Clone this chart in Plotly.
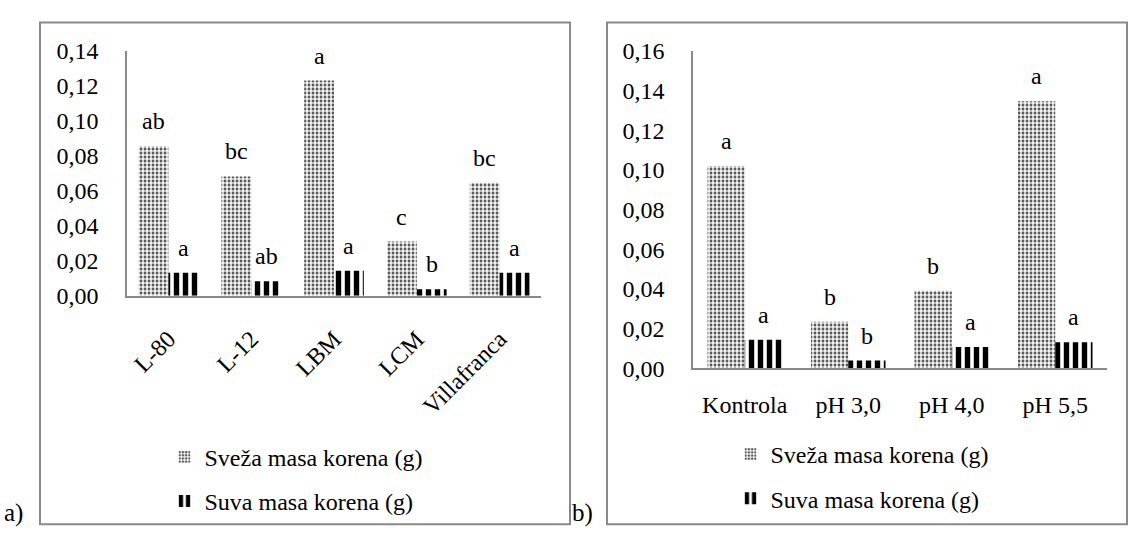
import plotly.graph_objects as go

# ---------------- data ----------------
cats_a = ["L-80", "L-12", "LBM", "LCM", "Villafranca"]
fresh_a = [0.0855, 0.0683, 0.1231, 0.0310, 0.0647]
dry_a = [0.0132, 0.0083, 0.0143, 0.0038, 0.0132]
fresh_a_letters = ["ab", "bc", "a", "c", "bc"]
dry_a_letters = ["a", "ab", "a", "b", "a"]

cats_b = ["Kontrola", "pH 3,0", "pH 4,0", "pH 5,5"]
fresh_b = [0.1020, 0.0234, 0.0390, 0.1347]
dry_b = [0.0143, 0.0038, 0.0107, 0.0130]
fresh_b_letters = ["a", "b", "b", "a"]
dry_b_letters = ["a", "b", "a", "a"]

name_fresh = "Sveža masa korena (g)"
name_dry = "Suva masa korena (g)"
yticks_a = [0.00, 0.02, 0.04, 0.06, 0.08, 0.10, 0.12, 0.14]
yticks_b = [0.00, 0.02, 0.04, 0.06, 0.08, 0.10, 0.12, 0.14, 0.16]

# ---------------- layout constants ----------------
W, H = 1128, 543
FONT = "Liberation Serif"
FS = 24
GRAY = "#8a8a8a"
BARGAP = 0.28

# pixel geometry of the plot areas
ax_l = dict(x0=127, x1=541, ytop=40, ybot=297)
ax_r = dict(x0=693, x1=1107, ytop=40, ybot=373)


def dom_x(a):
    return [a["x0"] / W, a["x1"] / W]


def dom_y(a):
    return [1 - a["ybot"] / H, 1 - a["ytop"] / H]


fresh_marker = dict(
    color="#eeeeee",
    line=dict(width=0),
    pattern=dict(shape=".", fgcolor="#555555", bgcolor="#f4f4f4", size=4, solidity=0.4,
                 fgopacity=1),
)
dry_marker = dict(
    color="white",
    line=dict(width=0),
    pattern=dict(shape="|", fgcolor="black", bgcolor="white", size=9, solidity=0.6,
                 fgopacity=1),
)

fig = go.Figure()
fig.add_trace(go.Bar(x=cats_a, y=fresh_a, name=name_fresh, marker=fresh_marker,
                     xaxis="x", yaxis="y", legend="legend", legendgroup="f1"))
fig.add_trace(go.Bar(x=cats_a, y=dry_a, name=name_dry, marker=dry_marker,
                     xaxis="x", yaxis="y", legend="legend", legendgroup="d1"))
fig.add_trace(go.Bar(x=cats_b, y=fresh_b, name=name_fresh, marker=fresh_marker,
                     xaxis="x2", yaxis="y2", legend="legend2", legendgroup="f2"))
fig.add_trace(go.Bar(x=cats_b, y=dry_b, name=name_dry, marker=dry_marker,
                     xaxis="x2", yaxis="y2", legend="legend2", legendgroup="d2"))

annotations = []


def add_letters(cats, vals, letters, xref, yref, shift):
    for c, v, t in zip(cats, vals, letters):
        annotations.append(dict(x=c, y=v, xref=xref, yref=yref, text=t, showarrow=False,
                                xshift=shift, yshift=25, yanchor="middle",
                                font=dict(family=FONT, size=FS, color="black")))


bw_l = (ax_l["x1"] - ax_l["x0"]) / len(cats_a) * (1 - BARGAP) / 2
bw_r = (ax_r["x1"] - ax_r["x0"]) / len(cats_b) * (1 - BARGAP) / 2
add_letters(cats_a, fresh_a, fresh_a_letters, "x", "y", -bw_l / 2)
add_letters(cats_a, dry_a, dry_a_letters, "x", "y", bw_l / 2)
add_letters(cats_b, fresh_b, fresh_b_letters, "x2", "y2", -bw_r / 2)
add_letters(cats_b, dry_b, dry_b_letters, "x2", "y2", bw_r / 2)

annotations.append(dict(x=2 / W, y=1 - 525 / H, xref="paper", yref="paper", text="a)",
                        showarrow=False, xanchor="left", yanchor="middle",
                        font=dict(family=FONT, size=FS + 1, color="black")))
annotations.append(dict(x=570 / W, y=1 - 525 / H, xref="paper", yref="paper", text="b)",
                        showarrow=False, xanchor="left", yanchor="middle",
                        font=dict(family=FONT, size=FS + 1, color="black")))

shapes = [
    dict(type="rect", xref="paper", yref="paper", x0=40 / W, x1=570 / W,
         y0=1 - 537 / H, y1=1 - 10 / H, line=dict(color=GRAY, width=2)),
    dict(type="rect", xref="paper", yref="paper", x0=607 / W, x1=1127 / W,
         y0=1 - 537 / H, y1=1 - 10 / H, line=dict(color=GRAY, width=2)),
]

tickfont = dict(family=FONT, size=FS, color="black")
common_x = dict(showgrid=False, zeroline=False, showline=True, linecolor=GRAY, linewidth=1.5,
                ticks="", tickfont=tickfont, fixedrange=True)
common_y = dict(showgrid=False, zeroline=False, showline=True, linecolor=GRAY, linewidth=1.5,
                ticks="", tickfont=tickfont, tickformat=".2f", ticklabelstandoff=22)

legend_common = dict(font=dict(family=FONT, size=FS, color="black"), orientation="v",
                     bgcolor="rgba(0,0,0,0)", tracegroupgap=10, itemwidth=30,
                     xanchor="center", yanchor="top")

fig.update_layout(
    width=W, height=H,
    margin=dict(l=0, r=0, t=0, b=0),
    paper_bgcolor="white", plot_bgcolor="white",
    barmode="group", bargap=BARGAP, bargroupgap=0,
    separators=",.",
    showlegend=True,
    xaxis=dict(domain=dom_x(ax_l), anchor="y", tickangle=-45, ticklabelstandoff=18, **common_x),
    yaxis=dict(domain=dom_y(ax_l), anchor="x", range=[0, 0.14], tickvals=yticks_a, **common_y),
    xaxis2=dict(domain=dom_x(ax_r), anchor="y2", tickangle=0, ticklabelstandoff=14, **common_x),
    yaxis2=dict(domain=dom_y(ax_r), anchor="x2", range=[0, 0.16], tickvals=yticks_b, **common_y),
    legend=dict(x=296 / W, y=1 - 443 / H, **legend_common),
    legend2=dict(x=862 / W, y=1 - 440 / H, **legend_common),
    annotations=annotations,
    shapes=shapes,
)

fig.write_html("out.html")
